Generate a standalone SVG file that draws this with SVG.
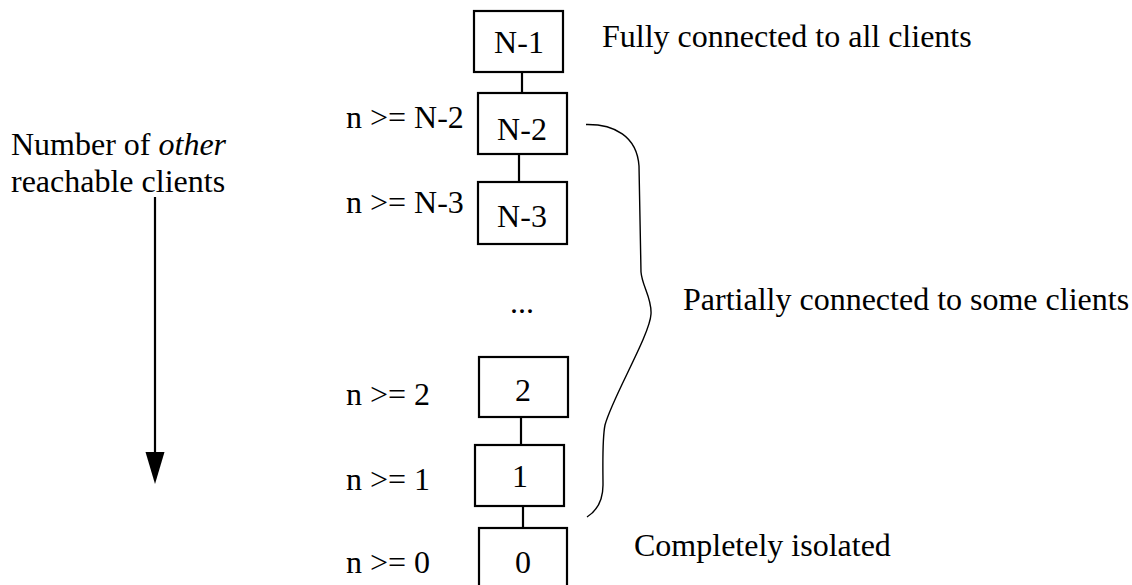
<svg xmlns="http://www.w3.org/2000/svg" width="1132" height="585" viewBox="0 0 1132 585">
<style>
text{font-family:"Liberation Serif","Times New Roman",serif;font-size:32px;fill:#000}
.box{fill:#fff;stroke:#000;stroke-width:2.2}
.c{text-anchor:middle}
.conn{stroke:#000;stroke-width:2.2;fill:none}
.brace{stroke:#000;stroke-width:1.4;fill:none}
</style>
<rect width="1132" height="585" fill="#fff"/>
<g id="connectors">
<line class="conn" x1="522" y1="72" x2="522" y2="93"/>
<line class="conn" x1="519" y1="154" x2="519" y2="182"/>
<line class="conn" x1="521" y1="417" x2="521" y2="445"/>
<line class="conn" x1="523" y1="506" x2="523" y2="528"/>
</g>
<g id="node-n1"><rect class="box" x="474" y="11" width="89" height="61"/><text class="c" x="519" y="53">N-1</text></g>
<g id="node-n2"><rect class="box" x="478" y="93" width="89" height="61"/><text class="c" x="522" y="140">N-2</text></g>
<g id="node-n3"><rect class="box" x="478" y="182" width="89" height="62"/><text class="c" x="522" y="227">N-3</text></g>
<g id="node-2"><rect class="box" x="479" y="357" width="89" height="60"/><text class="c" x="523" y="401">2</text></g>
<g id="node-1"><rect class="box" x="475" y="445" width="89" height="61"/><text class="c" x="520" y="487">1</text></g>
<g id="node-0"><rect class="box" x="479" y="528" width="88" height="62"/><text class="c" x="523" y="573">0</text></g>
<g id="labels">
<text x="346" y="128">n &gt;= N-2</text>
<text x="346" y="213">n &gt;= N-3</text>
<text class="c" x="522" y="313">...</text>
<text x="346" y="405">n &gt;= 2</text>
<text x="346" y="490">n &gt;= 1</text>
<text x="346" y="573">n &gt;= 0</text>
<text x="602" y="47">Fully connected to all clients</text>
<text x="683" y="310">Partially connected to some clients</text>
<text x="634" y="556">Completely isolated</text>
</g>
<g id="axis">
<text x="11" y="155">Number of <tspan font-style="italic">other</tspan></text>
<text x="11" y="192">reachable clients</text>
<line class="conn" x1="155" y1="197" x2="155" y2="454"/>
<polygon points="145.5,452 164.5,452 155,484" fill="#000"/>
</g>
<g id="brace">
<path class="brace" d="M586,124.5 C614,124 637,136 639,166 L641,272 C642,286 652,298 651,314 C650,335 612,398 605,425 C602,440 603,470 603,485 C603,500 598,510 587,517"/>
</g>
</svg>
